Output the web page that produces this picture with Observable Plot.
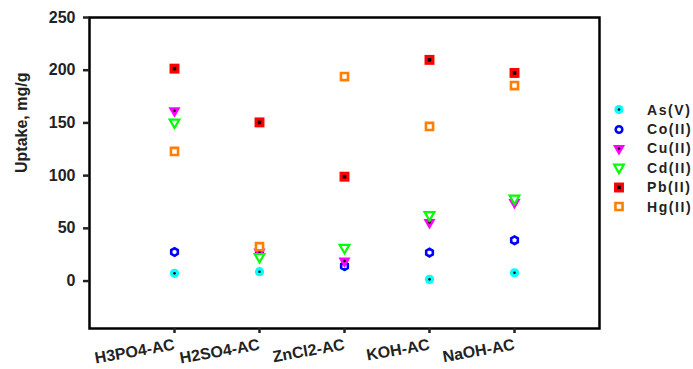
<!DOCTYPE html>
<html>
<head>
<meta charset="utf-8">
<script src="https://cdn.jsdelivr.net/npm/d3@7"></script>
<script src="https://cdn.jsdelivr.net/npm/@observablehq/plot@0.6"></script>
<style>
  body { margin: 0; background: #fff; }
  #wrap { position: relative; width: 693px; height: 369px; font-family: "Liberation Sans", Arial, sans-serif; }
  #legend { position: absolute; left: 608px; top: 100px; }
  .lg { display: flex; align-items: center; height: 19.4px; }
  .lg svg { width: 22px; height: 19px; }
  .lg span { margin-left: 17px; font-weight: bold; font-size: 14px; letter-spacing: 1.6px; color: #222; }
</style>
</head>
<body>
<div id="wrap"><div id="legend"></div></div>
<script>
const categories = ["H3PO4-AC", "H2SO4-AC", "ZnCl2-AC", "KOH-AC", "NaOH-AC"];
const seriesNames = ["As(V)", "Co(II)", "Cu(II)", "Cd(II)", "Pb(II)", "Hg(II)"];
const asV  = [7.3, 8.9, 14, 1.6, 7.9];
const coII = [27.6, 28, 14.3, 27, 38.7];
const cuII = [161.5, 27.5, 19, 55.5, 74.5];
const cdII = [150.5, 23, 31.7, 62.7, 78.3];
const pbII = [201.5, 150.5, 99, 209.8, 197.4];
const hgII = [123, 32.6, 194, 146.7, 185.4];
const yTicks = [0, 50, 100, 150, 200, 250];

const rows = (vals) => categories.map((c, i) => ({cat: c, v: vals[i]}));

const plot = Plot.plot({
  width: 693, height: 369,
  marginLeft: 89, marginRight: 94, marginTop: 17, marginBottom: 41,
  style: {fontFamily: "Liberation Sans, Arial, sans-serif", fontWeight: "bold", color: "#222", background: "white"},
  x: {type: "point", domain: categories, padding: 1},
  y: {domain: [-45, 250]},
  marks: [
    Plot.frame({stroke: "black", strokeWidth: 2.5}),
    Plot.axisY({ticks: yTicks, tickSize: 6, tickPadding: 8, fontSize: 16, strokeWidth: 2.5, label: null}),
    Plot.text(["Uptake, mg/g"], {frameAnchor: "left", dx: -68, rotate: -90, fontSize: 16, fontWeight: "bold", fill: "#222"}),
    Plot.axisX({tickSize: 5, strokeWidth: 2.5, text: null, label: null}),
    Plot.text(categories, {x: (d) => d, frameAnchor: "bottom", dy: 21, dx: 1, rotate: -10, textAnchor: "end", fontSize: 16, fontWeight: "bold", fill: "#222", ariaLabel: "xlabels"}),
    // As(V)
    Plot.dot(rows(asV), {x: "cat", y: "v", symbol: "circle", r: 4.6, fill: "#00ffff"}),
    Plot.dot(rows(asV), {x: "cat", y: "v", symbol: "circle", r: 1.3, fill: "black"}),
    // Co(II)
    Plot.dot(rows(coII), {x: "cat", y: "v", symbol: "hexagon", r: 3.3, stroke: "#0000ff", strokeWidth: 2.6, fill: "white"}),
    // Cu(II)
    Plot.dot(rows(cuII), {x: "cat", y: "v", symbol: "triangle", r: 4.5, rotate: 180, fill: "#ff00ff"}),
    Plot.dot(rows(cuII), {x: "cat", y: "v", symbol: "circle", r: 1.2, fill: "black"}),
    // Cd(II)
    Plot.dot(rows(cdII), {x: "cat", y: "v", symbol: "triangle", r: 3.6, rotate: 180, stroke: "#00ff00", strokeWidth: 2.2, fill: "white"}),
    // Pb(II)
    Plot.dot(rows(pbII), {x: "cat", y: "v", symbol: "square", r: 5.6, fill: "#ff0000"}),
    Plot.dot(rows(pbII), {x: "cat", y: "v", symbol: "square", r: 2, fill: "black"}),
    // Hg(II)
    Plot.dot(rows(hgII), {x: "cat", y: "v", symbol: "square", r: 4, stroke: "#ff8000", strokeWidth: 2.6, fill: "white"})
  ]
});
document.getElementById("wrap").prepend(plot);

// legend
const legendSpecs = [
  {name: seriesNames[0], parts: [{t: d3.symbolCircle, r: 4.6, fill: "#00ffff"}, {t: d3.symbolCircle, r: 1.3, fill: "black"}]},
  {name: seriesNames[1], parts: [{t: d3.symbolHexagon || d3.symbolCircle, r: 3.3, stroke: "#0000ff", sw: 2.6, fill: "white"}]},
  {name: seriesNames[2], parts: [{t: d3.symbolTriangle, r: 4.5, fill: "#ff00ff", rot: 180}, {t: d3.symbolCircle, r: 1.2, fill: "black"}]},
  {name: seriesNames[3], parts: [{t: d3.symbolTriangle, r: 3.6, stroke: "#00ff00", sw: 2.2, fill: "white", rot: 180}]},
  {name: seriesNames[4], parts: [{t: d3.symbolSquare, r: 5.6, fill: "#ff0000"}, {t: d3.symbolSquare, r: 2, fill: "black"}]},
  {name: seriesNames[5], parts: [{t: d3.symbolSquare, r: 4, stroke: "#ff8000", sw: 2.6, fill: "white"}]}
];
const legend = d3.select("#legend");
for (const s of legendSpecs) {
  const row = legend.append("div").attr("class", "lg");
  const svg = row.append("svg");
  for (const p of s.parts) {
    svg.append("path")
      .attr("d", d3.symbol(p.t, p.r * p.r * Math.PI)())
      .attr("transform", `translate(11,9.5) rotate(${p.rot || 0})`)
      .attr("fill", p.fill || "none")
      .attr("stroke", p.stroke || "none")
      .attr("stroke-width", p.sw || 0);
  }
  row.append("span").text(s.name);
}
</script>
</body>
</html>
